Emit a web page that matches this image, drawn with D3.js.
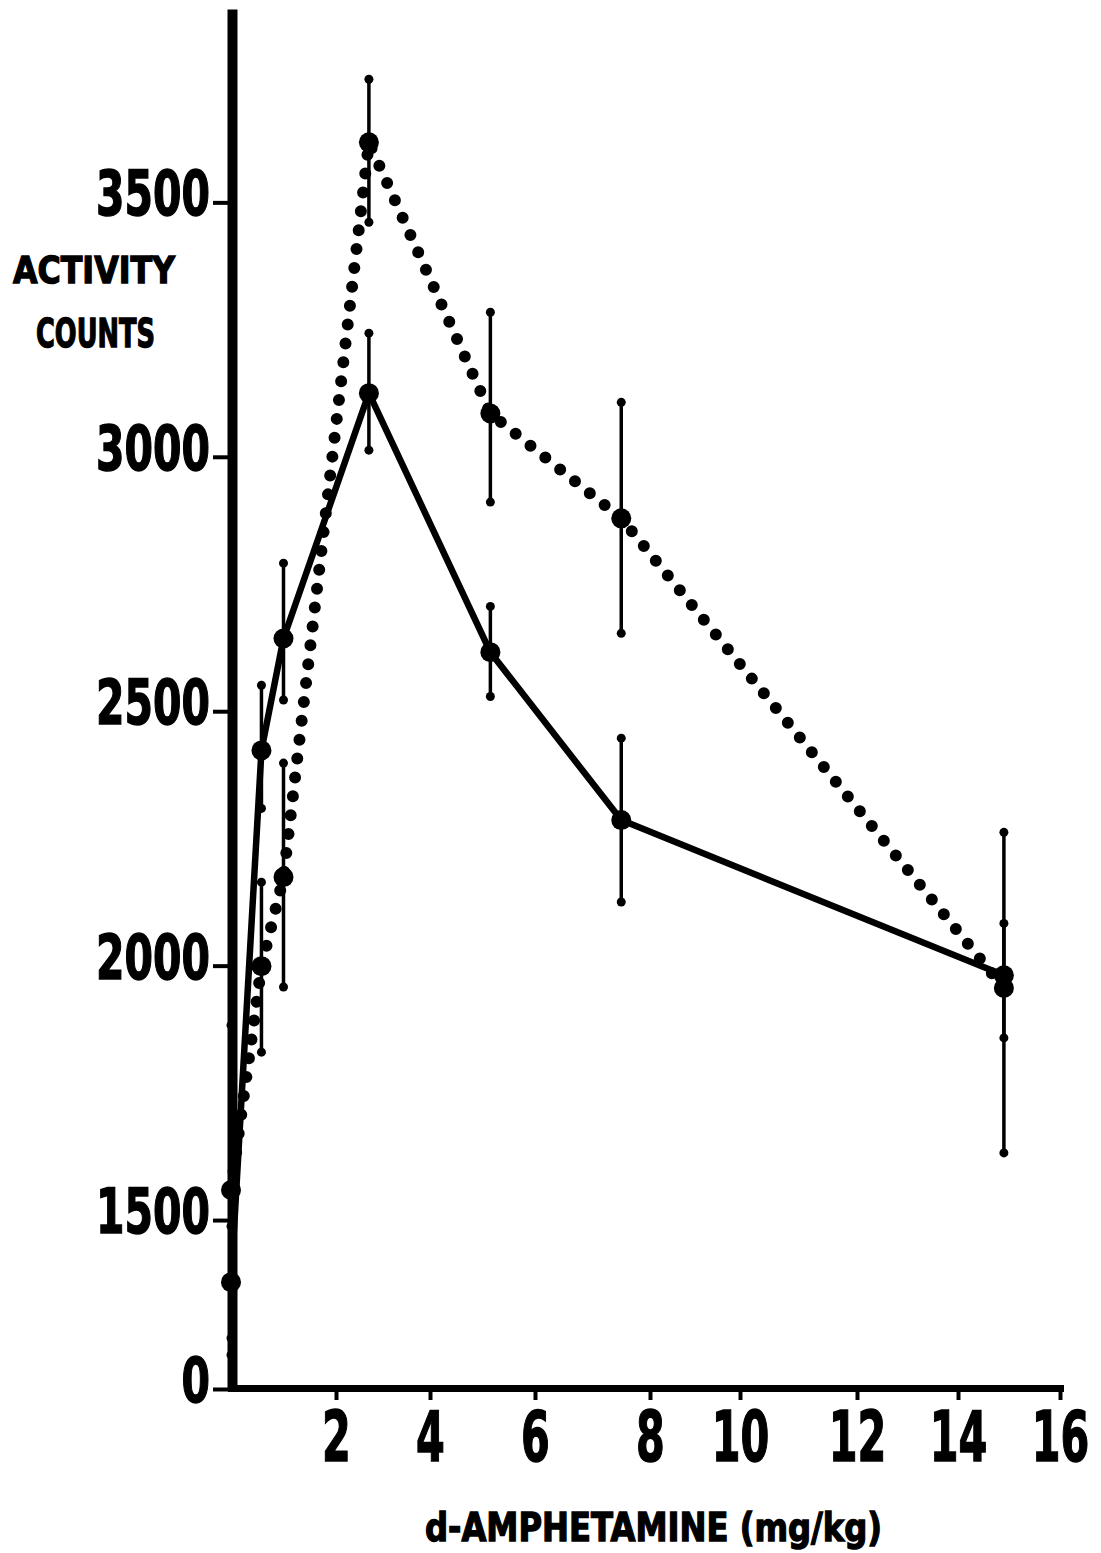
<!DOCTYPE html>
<html>
<head>
<meta charset="utf-8">
<script src="https://cdn.jsdelivr.net/npm/d3@7"></script>
<style>
  body { margin: 0; background: #fff; }
  .lbl { font-family: "DejaVu Sans", "Liberation Sans", sans-serif; font-weight: bold; fill: #000; stroke: #000; }
</style>
</head>
<body>
<svg id="chart" width="1101" height="1553"></svg>
<script>
// d-amphetamine dose (mg/kg)
const doses = [0, 0.58, 1.0, 2.7, 5.15, 7.5, 14.9];

// solid-line group: mean activity counts and error-bar limits
const solidMean = [1378, 2423, 2643, 3125, 2616, 2286, 1981];
const solidHigh = [1488, 2551, 2791, 3243, 2706, 2447, 2083];
const solidLow  = [1268, 2309, 2522, 3013, 2529, 2125, 1858];

// dotted-line group: mean activity counts and error-bar limits
const dottedMean = [1559, 1999, 2174, 3618, 3085, 2879, 1956];
const dottedHigh = [1883, 2164, 2398, 3742, 3284, 3107, 2262];
const dottedLow  = [1235, 1830, 1958, 3461, 2911, 2653, 1632];

const xTicks = [2, 4, 6, 8, 10, 12, 14, 16];
const yTicks = [0, 1500, 2000, 2500, 3000, 3500];

const svg = d3.select("#chart");

// hand-ruled dose axis: tick spacing is uneven, so the scale is piecewise
const x = d3.scaleLinear()
  .domain([0, 2, 4, 6, 8, 10, 12, 14, 16])
  .range([231, 336, 430, 535, 650, 740, 857, 958, 1060]);

// count axis with a break between 0 and 1500
const y = d3.scaleLinear()
  .domain([0, 1180, 3880])
  .range([1389, 1382.9, 9]);

// y axis
const yAxis = svg.append("g")
  .attr("transform", "translate(232,0)")
  .call(d3.axisLeft(y).tickValues(yTicks).tickSize(19).tickSizeOuter(0).tickPadding(3).tickFormat(d3.format("d")));
yAxis.select(".domain").attr("stroke", "#000").attr("stroke-width", 10);
yAxis.selectAll(".tick line").attr("stroke", "#000").attr("stroke-width", 4);
// condensed heavy digits: horizontal squeeze about the tick, anchor kept at x = -22
const ySqueeze = 0.65;
yAxis.selectAll(".tick text")
  .attr("class", "lbl")
  .attr("font-size", 63)
  .attr("stroke-width", 1.5)
  .attr("dy", "0.2em")
  .attr("x", -22 / ySqueeze)
  .attr("transform", `scale(${ySqueeze},1)`);

// x axis
const xAxis = svg.append("g")
  .attr("transform", "translate(0,1388)")
  .call(d3.axisBottom(x).tickValues(xTicks).tickSize(12).tickSizeOuter(0).tickPadding(12));
xAxis.select(".domain").attr("stroke", "#000").attr("stroke-width", 7).attr("stroke-linecap", "square");
xAxis.selectAll(".tick line").attr("stroke", "#000").attr("stroke-width", 4);
xAxis.selectAll(".tick text")
  .attr("class", "lbl")
  .attr("font-size", 69)
  .attr("stroke-width", 1.5)
  .attr("transform", "scale(0.6,1)");

// axis titles
svg.append("text").attr("class", "lbl")
  .attr("x", 13).attr("y", 283)
  .attr("font-size", 37).attr("stroke-width", 1.4)
  .attr("textLength", 162).attr("lengthAdjust", "spacingAndGlyphs")
  .text("ACTIVITY");
svg.append("text").attr("class", "lbl")
  .attr("x", 36).attr("y", 347)
  .attr("font-size", 39).attr("stroke-width", 1.4)
  .attr("textLength", 119).attr("lengthAdjust", "spacingAndGlyphs")
  .text("COUNTS");
svg.append("text").attr("class", "lbl")
  .attr("x", 425).attr("y", 1541)
  .attr("font-size", 39).attr("stroke-width", 1.4)
  .attr("textLength", 457).attr("lengthAdjust", "spacingAndGlyphs")
  .text("d-AMPHETAMINE  (mg/kg)");

const solid = doses.map((d, i) => ({ d, m: solidMean[i], hi: solidHigh[i], lo: solidLow[i] }));
const dotted = doses.map((d, i) => ({ d, m: dottedMean[i], hi: dottedHigh[i], lo: dottedLow[i] }));

// error bars with round end dots
function errorBars(data) {
  const g = svg.append("g");
  g.selectAll("line").data(data).join("line")
    .attr("x1", p => x(p.d)).attr("x2", p => x(p.d))
    .attr("y1", p => y(p.hi)).attr("y2", p => y(p.lo))
    .attr("stroke", "#000").attr("stroke-width", 3.5);
  g.selectAll("circle").data(data.flatMap(p => [[p.d, p.hi], [p.d, p.lo]])).join("circle")
    .attr("cx", p => x(p[0])).attr("cy", p => y(p[1])).attr("r", 4.5).attr("fill", "#000");
}
errorBars(solid);
errorBars(dotted);

const line = d3.line().x(p => x(p.d)).y(p => y(p.m));

// dotted series: a row of round dots along the path
svg.append("path").datum(dotted)
  .attr("d", line)
  .attr("fill", "none").attr("stroke", "#000")
  .attr("stroke-width", 12).attr("stroke-linecap", "round")
  .attr("stroke-dasharray", "0 19");

// solid series
svg.append("path").datum(solid)
  .attr("d", line)
  .attr("fill", "none").attr("stroke", "#000")
  .attr("stroke-width", 6.5).attr("stroke-linejoin", "round");

// mean markers
svg.append("g").selectAll("circle").data(solid.concat(dotted)).join("circle")
  .attr("cx", p => x(p.d)).attr("cy", p => y(p.m)).attr("r", 10).attr("fill", "#000");
</script>
</body>
</html>
